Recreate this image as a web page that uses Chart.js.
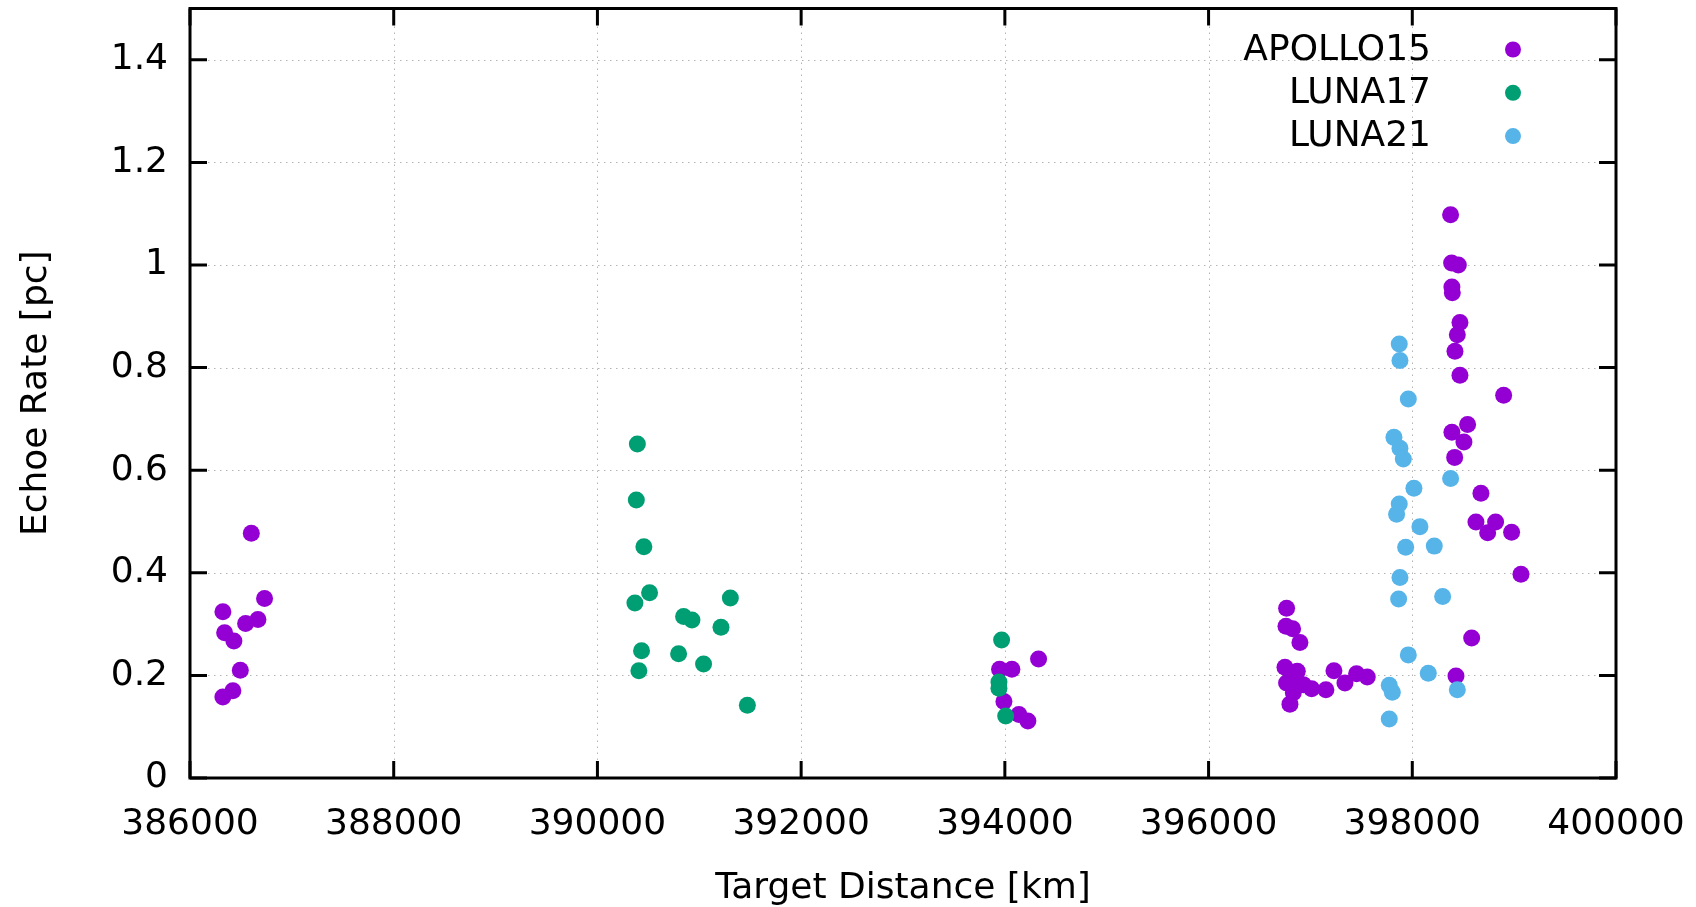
<!DOCTYPE html>
<html>
<head>
<meta charset="utf-8">
<script src="https://cdn.jsdelivr.net/npm/chart.js@4/dist/chart.umd.min.js"></script>
<style>
  body { margin: 0; background: #fff; }
  #wrap { width: 1696px; height: 907px; }
</style>
</head>
<body>
<div id="wrap"><canvas id="myChart" width="1696" height="907"></canvas></div>
<script>
// values
const xTicks = [386000, 388000, 390000, 392000, 394000, 396000, 398000, 400000];
const yTicks = [0, 0.2, 0.4, 0.6, 0.8, 1.0, 1.2, 1.4];

const apolloX = [
  386602, 386732, 386323, 386667, 386546, 386340, 386431, 386494, 386421, 386323,
  394331, 393948, 394069, 393991, 394138, 394226,
  396766, 396760, 396825, 396897, 396750, 396871, 396766, 396848, 396930, 397012,
  397152, 396832, 396799, 397231, 397339, 397453, 397558,
  398376, 398386, 398452, 398389, 398393, 398468, 398442, 398419, 398468, 398897,
  398543, 398389, 398507, 398416, 398674, 398625, 398818, 398740, 398975, 399067,
  398583, 398429
];
const apolloY = [
  0.477, 0.350, 0.324, 0.309, 0.301, 0.283, 0.267, 0.210, 0.170, 0.158,
  0.232, 0.212, 0.212, 0.149, 0.124, 0.111,
  0.331, 0.296, 0.291, 0.264, 0.216, 0.208, 0.185, 0.192, 0.182, 0.174,
  0.172, 0.166, 0.144, 0.209, 0.185, 0.203, 0.197,
  1.098, 1.004, 1.000, 0.957, 0.946, 0.888, 0.864, 0.832, 0.785, 0.746,
  0.689, 0.674, 0.655, 0.625, 0.555, 0.499, 0.499, 0.478, 0.479, 0.397,
  0.273, 0.199
];

const luna17X = [
  390392, 390382, 390456, 390512, 390368, 390846, 390928, 391305, 391213, 390433,
  390797, 391042, 390407, 391472, 393968, 393942, 393942, 394008
];
const luna17Y = [
  0.651, 0.542, 0.451, 0.361, 0.341, 0.315, 0.308, 0.351, 0.294, 0.248,
  0.242, 0.222, 0.209, 0.142, 0.269, 0.187, 0.175, 0.121
];

const luna21X = [
  397872, 397879, 397961, 397820, 397879, 397912, 398376, 398016, 397872, 397846,
  398075, 397935, 398216, 397879, 397866, 398298, 397961, 398157, 397774, 397804,
  397774, 398442
];
const luna21Y = [
  0.846, 0.814, 0.739, 0.664, 0.643, 0.622, 0.584, 0.565, 0.534, 0.514,
  0.490, 0.450, 0.452, 0.391, 0.349, 0.354, 0.240, 0.204, 0.181, 0.167,
  0.115, 0.172
];

const FONT = 'DejaVu Sans';
const TICK = 17;

function pts(xs, ys) {
  return xs.map((x, i) => ({x: x, y: ys[i]}));
}

function series(label, xs, ys, color, order) {
  return {
    label: label,
    data: pts(xs, ys),
    backgroundColor: color,
    borderColor: color,
    borderWidth: 0,
    pointRadius: 8.5,
    pointHoverRadius: 8.5,
    order: order
  };
}

// gnuplot style frame, mirrored inward ticks, dotted grid and key
const gnuplotFrame = {
  id: 'gnuplotFrame',
  beforeDatasetsDraw(chart) {
    const {ctx, chartArea: a, scales: {x, y}} = chart;
    ctx.save();
    ctx.strokeStyle = '#b4b4b4';
    ctx.lineWidth = 1;
    ctx.setLineDash([1.5, 4.5]);
    ctx.beginPath();
    xTicks.slice(1, -1).forEach(v => {
      const px = Math.round(x.getPixelForValue(v)) + 0.5;
      ctx.moveTo(px, a.top); ctx.lineTo(px, a.bottom);
    });
    yTicks.slice(1).forEach(v => {
      const py = Math.round(y.getPixelForValue(v)) + 0.5;
      ctx.moveTo(a.left, py); ctx.lineTo(a.right, py);
    });
    ctx.stroke();
    ctx.restore();
  },
  afterDatasetsDraw(chart) {
    const {ctx, chartArea: a, scales: {x, y}} = chart;
    ctx.save();
    ctx.strokeStyle = '#000';
    ctx.lineWidth = 3;
    ctx.beginPath();
    xTicks.forEach(v => {
      const px = x.getPixelForValue(v);
      ctx.moveTo(px, a.bottom); ctx.lineTo(px, a.bottom - TICK);
      ctx.moveTo(px, a.top); ctx.lineTo(px, a.top + TICK);
    });
    yTicks.forEach(v => {
      const py = y.getPixelForValue(v);
      ctx.moveTo(a.left, py); ctx.lineTo(a.left + TICK, py);
      ctx.moveTo(a.right, py); ctx.lineTo(a.right - TICK, py);
    });
    ctx.stroke();
    ctx.strokeRect(a.left, a.top, a.right - a.left, a.bottom - a.top);

    // key, top right
    ctx.font = '36px "' + FONT + '"';
    ctx.textAlign = 'right';
    ctx.textBaseline = 'middle';
    ctx.fillStyle = '#000';
    chart.data.datasets.forEach((ds, i) => {
      const ry = a.top + 41 + i * 43.3;
      ctx.fillText(ds.label, a.right - 185, ry + 1);
      ctx.beginPath();
      ctx.fillStyle = ds.backgroundColor;
      ctx.arc(a.right - 103, ry, 8, 0, Math.PI * 2);
      ctx.fill();
      ctx.fillStyle = '#000';
    });
    ctx.restore();
  }
};

const data = {
  datasets: [
    series('APOLLO15', apolloX, apolloY, '#9400d3', 3),
    series('LUNA17', luna17X, luna17Y, '#009e73', 2),
    series('LUNA21', luna21X, luna21Y, '#56b4e9', 1)
  ]
};

function noOverhang(s) {
  s.paddingTop = 0;
  s.paddingBottom = 0;
  s.paddingLeft = 0;
  s.paddingRight = 0;
}

const config = {
  type: 'scatter',
  data: data,
  options: {
    responsive: false,
    animation: false,
    layout: { padding: { top: 7, right: 80, left: 0, bottom: 0 } },
    plugins: {
      legend: { display: false },
      tooltip: { enabled: false }
    },
    scales: {
      x: {
        type: 'linear',
        min: 386000,
        max: 400000,
        afterFit: s => { s.height = 129; noOverhang(s); },
        afterBuildTicks: s => { s.ticks = xTicks.map(v => ({value: v})); },
        grid: { display: false, drawTicks: false },
        border: { display: false },
        ticks: {
          color: '#000',
          font: { family: FONT, size: 36 },
          padding: 25,
          maxRotation: 0,
          autoSkip: false,
          callback: v => String(v)
        },
        title: {
          display: true,
          text: 'Target Distance [km]',
          color: '#000',
          font: { family: FONT, size: 36 },
          padding: { top: 0, bottom: -3 }
        }
      },
      y: {
        type: 'linear',
        min: 0,
        max: 1.5,
        afterFit: s => { s.width = 190; noOverhang(s); },
        afterBuildTicks: s => { s.ticks = yTicks.map(v => ({value: v})); },
        grid: { display: false, drawTicks: false },
        border: { display: false },
        ticks: {
          color: '#000',
          font: { family: FONT, size: 36 },
          padding: 22,
          autoSkip: false,
          callback: v => String(Math.round(v * 10) / 10)
        },
        title: {
          display: true,
          text: 'Echoe Rate [pc]',
          color: '#000',
          font: { family: FONT, size: 36 },
          padding: { top: 15, bottom: 0 }
        }
      }
    }
  },
  plugins: [gnuplotFrame]
};

const myChart = new Chart(document.getElementById('myChart'), config);
</script>
</body>
</html>
